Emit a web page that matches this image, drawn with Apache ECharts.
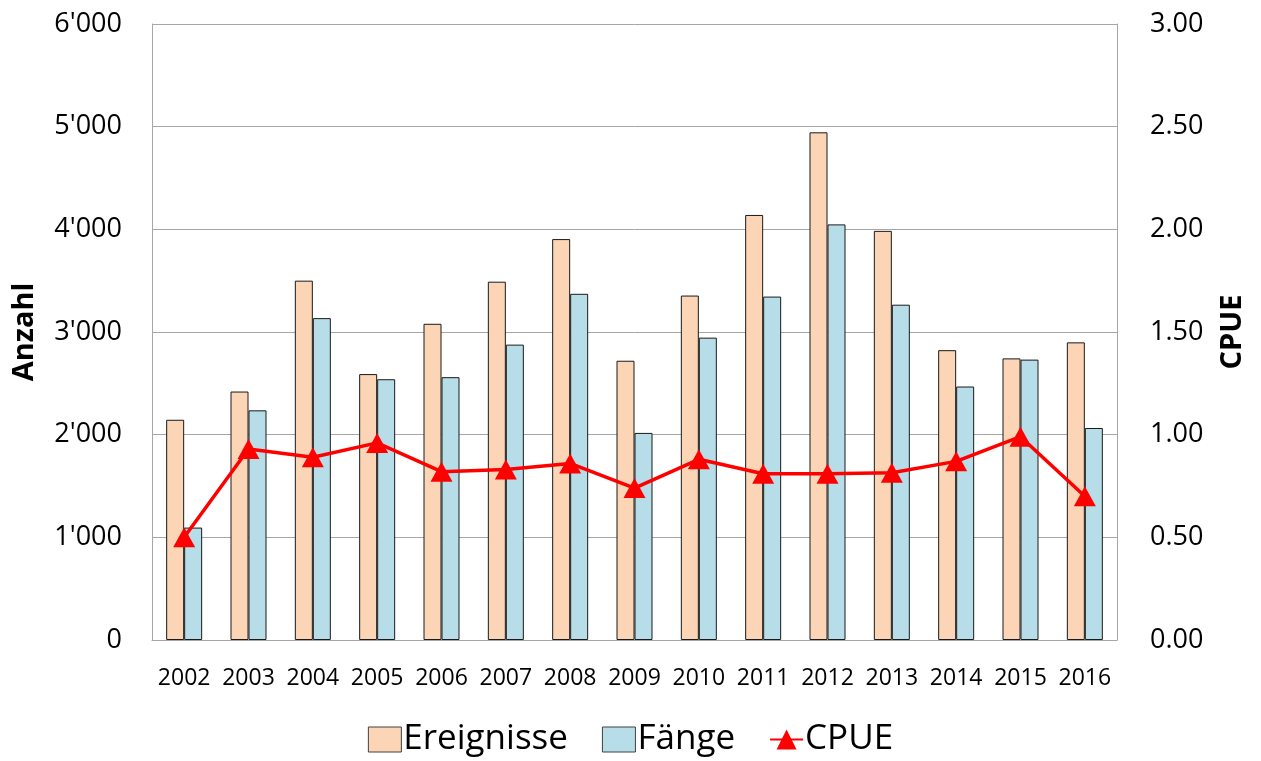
<!DOCTYPE html>
<html><head><meta charset="utf-8">
<script src="https://cdn.jsdelivr.net/npm/echarts@6/dist/echarts.min.js"></script>
<style>html,body{margin:0;padding:0;background:#fff}#c{width:1261px;height:761px}</style>
</head><body><div id="c"></div>
<script>
const years = ['2002','2003','2004','2005','2006','2007','2008','2009','2010','2011','2012','2013','2014','2015','2016'];
const ereignisse = [2145, 2420, 3500, 2590, 3080, 3490, 3905, 2720, 3355, 4140, 4945, 3985, 2823, 2743, 2899];
const faenge = [1095, 2237, 3135, 2540, 2560, 2877, 3372, 2017, 2945, 3345, 4048, 3266, 2469, 2731, 2065];
const cpue = [0.50, 0.93, 0.89, 0.96, 0.82, 0.83, 0.86, 0.74, 0.88, 0.81, 0.81, 0.815, 0.87, 0.99, 0.70];
const leftTicks = [0, 1000, 2000, 3000, 4000, 5000, 6000];
const rightTicks = [0, 0.5, 1, 1.5, 2, 2.5, 3];

const FONT = '"Open Sans", sans-serif';
const chart = echarts.init(document.getElementById('c'), null, {renderer: 'canvas'});
function fmtThousands(v){ if (v === 0) return '0'; const s = String(v); return s.slice(0, s.length-3) + "'" + s.slice(-3); }
chart.setOption({
  animation: false,
  textStyle: {fontFamily: FONT},
  grid: {left: 152, right: 144, top: 24, bottom: 121, containLabel: false},
  legend: {
    top: 717, left: 'center', itemGap: 34, itemWidth: 33, itemHeight: 25,
    textStyle: {fontSize: 35, color: '#000', fontFamily: FONT, padding: [0,0,0,-3]},
    data: [
      {name: 'Ereignisse', icon: 'rect', itemStyle: {borderColor: '#404040', borderWidth: 1}},
      {name: 'Fänge', icon: 'rect', itemStyle: {borderColor: '#404040', borderWidth: 1}},
      {name: 'CPUE'}
    ]
  },
  xAxis: {
    type: 'category', data: years,
    axisLine: {lineStyle: {color: '#A6A6A6', width: 1}},
    axisTick: {show: false},
    axisLabel: {fontSize: 23, color: '#000', margin: 27, interval: 0, hideOverlap: false, fontFamily: FONT}
  },
  yAxis: [
    {
      type: 'value', min: 0, max: 6000, interval: 1000,
      name: 'Anzahl', nameLocation: 'middle', nameGap: 113, nameRotate: 90,
      nameTextStyle: {fontSize: 29, fontWeight: 'bold', color: '#000', fontFamily: FONT},
      axisLine: {show: true, lineStyle: {color: '#A6A6A6'}},
      axisTick: {show: false},
      splitLine: {lineStyle: {color: '#A6A6A6', width: 1}},
      axisLabel: {fontSize: 27, color: '#000', margin: 30, formatter: fmtThousands, fontFamily: FONT}
    },
    {
      type: 'value', min: 0, max: 3, interval: 0.5, position: 'right',
      name: 'CPUE', nameLocation: 'middle', nameGap: 101, nameRotate: 90,
      nameTextStyle: {fontSize: 29, fontWeight: 'bold', color: '#000', fontFamily: FONT},
      axisLine: {show: true, lineStyle: {color: '#A6A6A6'}},
      axisTick: {show: false},
      splitLine: {show: false},
      axisLabel: {fontSize: 27, color: '#000', margin: 33, formatter: v => v.toFixed(2), fontFamily: FONT}
    }
  ],
  series: [
    {name: 'Ereignisse', type: 'bar', data: ereignisse, barWidth: 18, barGap: '0%',
     itemStyle: {color: '#FBD5B5', borderColor: '#1a1a1a', borderWidth: 1}},
    {name: 'Fänge', type: 'bar', data: faenge, barWidth: 18,
     itemStyle: {color: '#B7DEE8', borderColor: '#1a1a1a', borderWidth: 1}},
    {name: 'CPUE', type: 'line', yAxisIndex: 1, data: cpue,
     symbol: 'triangle', symbolSize: [22, 20],
     lineStyle: {color: '#FF0000', width: 3.5},
     itemStyle: {color: '#FF0000'}}
  ]
});
</script></body></html>
